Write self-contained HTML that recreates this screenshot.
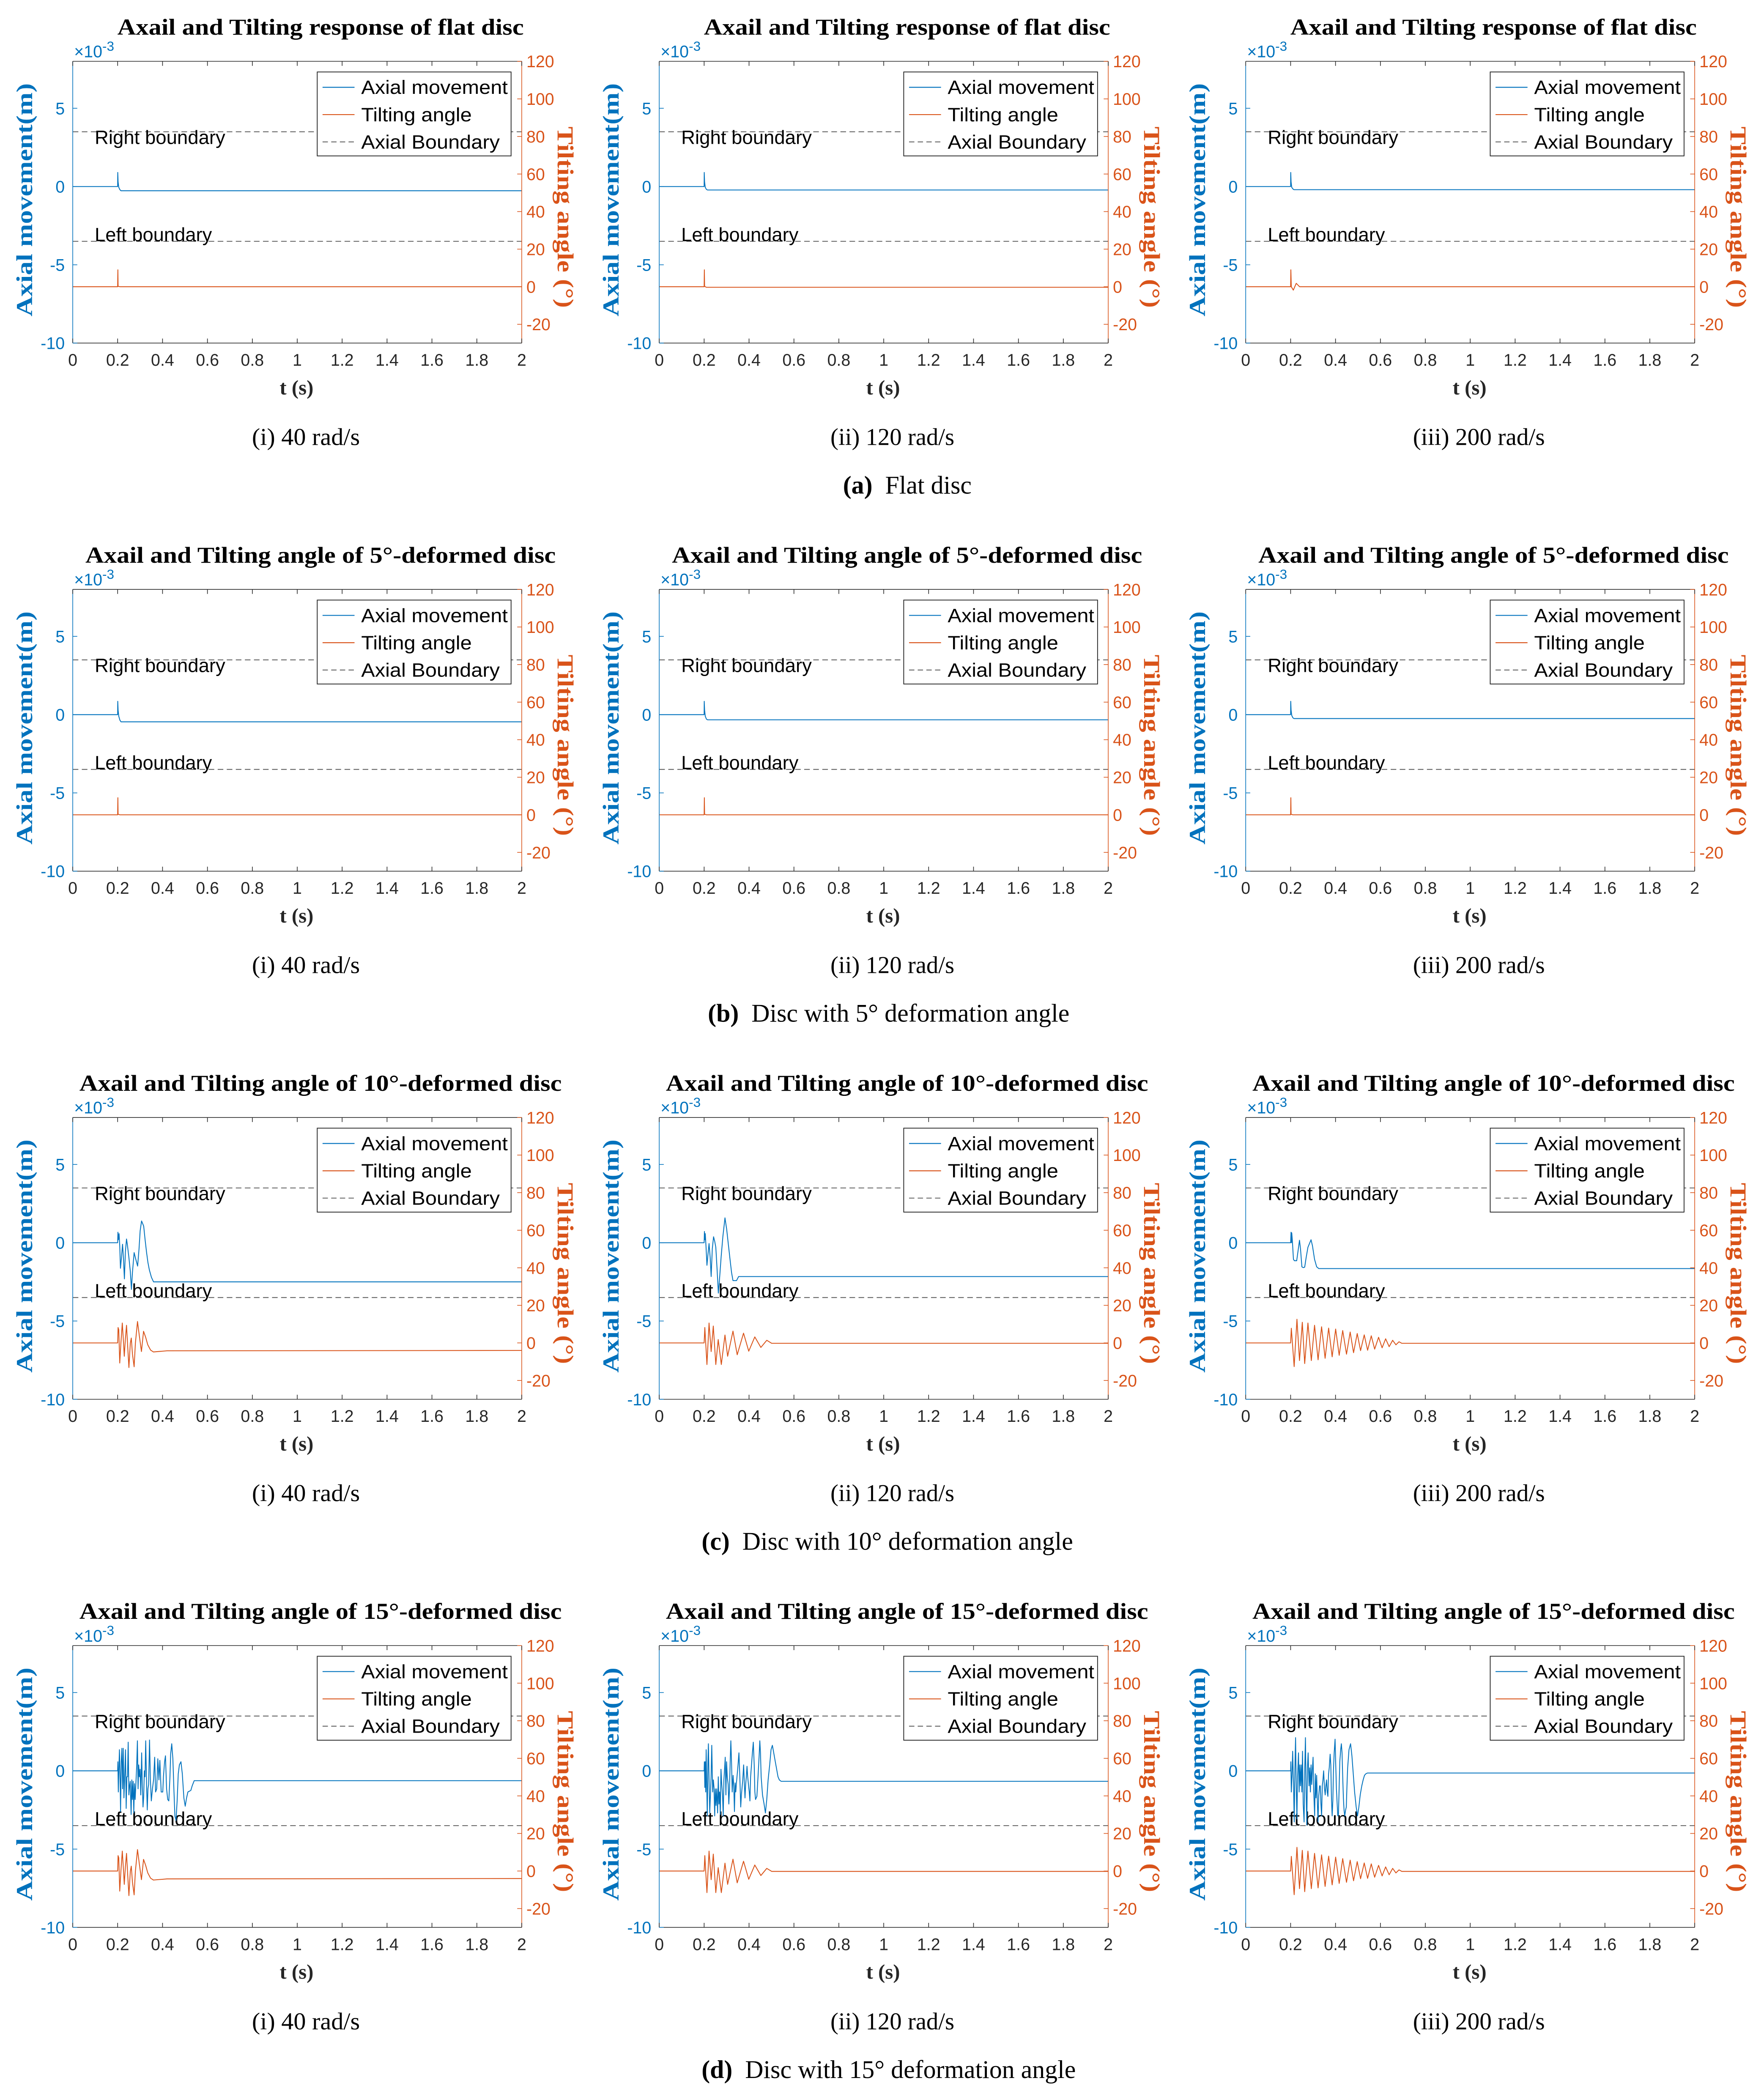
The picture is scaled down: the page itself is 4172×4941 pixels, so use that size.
<!DOCTYPE html>
<html><head><meta charset="utf-8">
<style>
html,body{margin:0;padding:0;background:#fff;}
svg{display:block;}
.sans{font-family:"Liberation Sans",Arial,sans-serif;}
.serif{font-family:"Liberation Serif","Times New Roman",serif;}
</style></head>
<body>
<svg id="fig" xmlns="http://www.w3.org/2000/svg" width="4172" height="4941" viewBox="0 0 1324 1568"></svg>
<script>
// ---------- shared axis data ----------
const xTicks = [0,0.2,0.4,0.6,0.8,1,1.2,1.4,1.6,1.8,2];
const xTickLabels = ['0','0.2','0.4','0.6','0.8','1','1.2','1.4','1.6','1.8','2'];
const axialTicks = [-10,-5,0,5];
const axialTickLabels = ['-10','-5','0','5'];
const tiltTicks = [-20,0,20,40,60,80,100,120];
const tiltTickLabels = ['-20','0','20','40','60','80','100','120'];
const boundaryValues = [3.5,-3.5];

// ---------- row a (flat disc) ----------
const a1AxT = [0,0.2,0.2005,0.202,0.205,0.21,0.215,2];
const a1Ax  = [0,0,0.9,0.3,-0.05,-0.2,-0.27,-0.27];
const a1TlT = [0,0.2,0.201,0.202,0.21,2];
const a1Tl  = [0,0,9,0.2,0,0];
const a2AxT = [0,0.2,0.2005,0.202,0.205,0.21,0.215,2];
const a2Ax  = [0,0,0.9,0.3,-0.05,-0.18,-0.22,-0.22];
const a2TlT = [0,0.2,0.201,0.202,0.21,2];
const a2Tl  = [0,0,9,0.2,-0.3,-0.3];
const a3AxT = [0,0.2,0.2005,0.202,0.205,0.21,0.215,2];
const a3Ax  = [0,0,0.9,0.3,-0.05,-0.15,-0.2,-0.2];
const a3TlT = [0,0.2,0.201,0.203,0.212,0.225,0.24,2];
const a3Tl  = [0,0,9,0,-1.8,1.8,0,0];

// ---------- row b (5 deg) ----------
const b1AxT = [0,0.2,0.2005,0.202,0.205,0.21,0.215,2];
const b1Ax  = [0,0,0.85,0.3,-0.1,-0.35,-0.46,-0.46];
const b1TlT = [0,0.2,0.201,0.202,0.21,2];
const b1Tl  = [0,0,9.1,0.3,0,0];
const b2AxT = [0,0.2,0.2005,0.202,0.205,0.21,0.215,2];
const b2Ax  = [0,0,0.85,0.3,-0.1,-0.28,-0.33,-0.33];
const b2TlT = [0,0.2,0.201,0.202,0.21,2];
const b2Tl  = [0,0,9.1,0.3,0,0];
const b3AxT = [0,0.2,0.2005,0.202,0.205,0.21,0.215,2];
const b3Ax  = [0,0,0.85,0.3,-0.05,-0.2,-0.25,-0.25];
const b3TlT = [0,0.2,0.201,0.202,0.21,2];
const b3Tl  = [0,0,9.1,0.3,0,0];

// ---------- row c (10 deg) ----------
const c1AxT = [0,0.2,0.2013,0.2031,0.2063,0.2094,0.2125,0.2169,0.2219,0.2257,0.2301,0.2345,0.2395,0.2439,0.2502,0.2564,0.2614,0.2658,0.2734,0.279,0.289,0.2953,0.3003,0.3066,0.316,0.3223,0.3285,0.3348,0.3411,0.3505,0.36,2];
const c1Ax  = [0,0,0.67,0.19,0.58,-0.19,-1.63,-0.96,-0.1,-0.96,-2.31,-0.58,0.24,-0.19,-0.96,-1.83,-2.98,-1.92,-0.63,-0.96,-1.49,-0.38,0.77,1.39,1.06,0.19,-0.58,-1.25,-1.73,-2.21,-2.5,-2.5];
const c1TlT = [0,0.2,0.2019,0.205,0.2094,0.2144,0.2207,0.2251,0.2295,0.2345,0.2395,0.2439,0.2502,0.2564,0.2608,0.2658,0.2734,0.279,0.2884,0.2966,0.3060,0.3154,0.3248,0.3342,0.3467,0.3593,0.42,2];
const c1Tl  = [0,0,8.2,7.0,-10.7,-0.2,10.6,2.2,-7.1,2.2,9.4,-0.2,-13.1,-0.2,2.6,-5.8,-12.7,-0.2,11.4,3.8,-4.6,6.2,3.0,-1.0,-3.8,-4.8,-4.2,-4.0];
const c2AxT = [0,0.2,0.2013,0.2031,0.205,0.2082,0.2125,0.2169,0.2219,0.227,0.2313,0.2364,0.242,0.247,0.252,0.2571,0.2633,0.2696,0.2759,0.2834,0.2928,0.3003,0.3085,0.316,0.3223,0.3285,0.3442,0.3536,2];
const c2Ax  = [0,0,0.72,0.19,0.58,-0.19,-1.44,-0.77,-0.05,-0.96,-2.16,-0.38,0.38,0.1,-0.29,-1.54,-3.22,-2.12,-0.87,0.38,1.59,0.87,-0.19,-1.15,-1.92,-2.42,-2.42,-2.16,-2.16];
const c2TlT = [0,0.2,0.2031,0.2125,0.2219,0.2313,0.2408,0.252,0.2627,0.2765,0.2928,0.3047,0.3285,0.3473,0.3755,0.3987,0.4257,0.4527,0.479,0.5009,2];
const c2Tl  = [0,0,8.2,-11.5,10.6,-4.6,9.0,-11.5,1.8,-11.5,4.2,-7.1,6.3,-6.3,5.2,-4.4,3.2,-2.4,1.4,-0.2,-0.2];
const c3AxT = [0,0.2,0.2019,0.2038,0.205,0.2075,0.2125,0.2169,0.227,0.2345,0.2395,0.2439,0.2502,0.2564,0.2627,0.269,0.2771,0.2909,0.2972,0.3066,0.316,0.3254,2];
const c3Ax  = [0,0,0.67,0,0.63,0.19,-1.06,-1.15,-1.15,-0.38,0.16,-0.38,-1.54,-1.59,-1.56,-0.96,-0.29,0.19,-0.19,-1.06,-1.54,-1.65,-1.65];
const c3TlT = [0,0.2,0.2031,0.2157,0.2282,0.2395,0.252,0.2627,0.2771,0.2922,0.3066,0.3223,0.3379,0.3536,0.3693,0.385,0.4006,0.4163,0.432,0.4489,0.4652,0.4803,0.4966,0.5116,0.5279,0.5429,0.5592,0.5743,0.5918,0.6075,0.6232,0.6389,0.6545,0.669,0.6828,0.6953,0.7078,2];
const c3Tl  = [0,0,7.8,-12.6,12.6,-9.4,11.0,-11.0,10.6,-9.4,9.4,-9.0,8.6,-8.2,7.9,-7.4,7.4,-6.6,6.6,-6.0,5.8,-5.2,5.0,-4.1,4.3,-3.9,3.8,-3.3,3.0,-2.6,2.2,-2.0,1.4,-1.0,0.6,-0.2,-0.2,-0.2];

// ---------- row d (15 deg) ----------
const d1AxT = [0,0.2,0.201,0.203,0.206,0.208,0.211,0.213,0.216,0.219,0.222,0.225,0.228,0.231,0.235,0.238,0.241,0.244,0.247,0.25,0.253,0.256,0.26,0.263,0.266,0.269,0.272,0.275,0.278,0.282,0.285,0.288,0.291,0.294,0.297,0.3,0.303,0.307,0.31,0.313,0.316,0.319,0.322,0.325,0.329,0.332,0.335,0.338,0.342,0.346,0.35,0.355,0.36,0.365,0.369,0.374,0.379,0.384,0.388,0.394,0.401,0.404,0.409,0.413,0.418,0.423,0.428,0.433,0.436,0.441,0.446,0.451,0.455,0.46,0.465,0.47,0.475,0.482,0.488,0.495,0.501,0.507,0.513,0.526,0.532,0.541,2];
const d1Ax  = [0,0,0.58,-1.35,0.38,1.35,-0.58,-2.6,0.58,1.44,-1.15,1.44,-1.73,-0.58,1.35,-2.4,-0.38,-0.38,1.83,-1.54,-0.96,-0.67,-2.79,-0.58,-1.83,-0.67,-2.69,-0.82,-1.83,-0.58,0.38,1.92,-1.15,0.38,-0.38,0.1,-1.54,1.15,-0.96,-2.31,-1.63,0,-0.38,1.92,-0.96,-2.5,-1.15,-0.87,1.97,-0.58,-1.92,-1.15,-0.58,0.87,-1.35,-1.15,0.77,-0.58,0.67,-1.35,-1.35,-0.38,0.58,0.96,-1.15,-1.83,-1.92,-0.38,1.06,1.73,0.77,-1.35,-2.88,-3.17,-1.92,-0.19,0.38,0.58,-0.19,-1.73,-2.26,-1.73,-1.35,-1.25,-0.96,-0.63,-0.63];
const d1TlT = c1TlT.slice();
const d1Tl  = [0,0,8.2,7.0,-10.7,-0.2,10.6,2.2,-7.1,2.2,9.4,-0.2,-13.1,-0.2,2.6,-5.8,-12.7,-0.2,11.4,3.8,-4.6,6.2,3.0,-1.0,-3.8,-4.8,-4.2,-4.0];
const d2AxT = [0,0.2,0.201,0.203,0.205,0.207,0.209,0.211,0.214,0.217,0.219,0.222,0.225,0.228,0.231,0.234,0.238,0.241,0.244,0.247,0.25,0.253,0.256,0.26,0.263,0.266,0.269,0.272,0.275,0.278,0.282,0.285,0.288,0.291,0.294,0.297,0.3,0.303,0.307,0.31,0.313,0.316,0.319,0.322,0.325,0.329,0.332,0.335,0.338,0.341,0.344,0.35,0.355,0.359,0.363,0.366,0.369,0.372,0.376,0.379,0.382,0.385,0.388,0.391,0.394,0.398,0.401,0.404,0.407,0.41,0.415,0.419,0.423,0.426,0.429,0.432,0.435,0.44,0.445,0.448,0.451,0.454,0.46,0.467,0.473,0.479,0.485,0.492,0.498,0.504,0.51,0.517,0.523,0.529,0.535,0.543,2];
const d2Ax  = [0,0,0.58,-1.06,0.58,-1.35,1.35,-0.38,-2.88,0.58,1.73,-0.58,-2.69,-1.54,-0.38,1.63,-1.35,-0.58,-1.06,-2.88,-1.15,-2.21,-1.15,-2.69,-0.38,-2.12,-1.35,-2.79,0.1,-0.77,-1.54,-2.88,-0.58,0.1,0.87,-1.54,0.58,-0.38,-0.87,-2.12,-1.15,0.58,1.92,0.58,-1.35,-0.29,-0.96,-2.6,-0.77,-1.35,-0.77,0.19,1.15,-0.38,-2.31,-1.54,-1.06,-0.58,0.38,-0.77,-1.73,-0.87,-0.38,0.29,-0.38,-0.96,-1.35,-1.92,-0.38,0.19,1.15,1.83,0.38,-1.35,-1.83,-1.73,-1.63,-0.38,0.96,1.92,1.15,-0.38,-1.54,-2.12,-2.69,-1.83,-0.58,0.38,1.35,1.63,1.15,0.58,0.1,-0.38,-0.58,-0.67,-0.67];
const d2TlT = c2TlT.slice();
const d2Tl  = [0,0,8.2,-11.5,10.6,-4.6,9.0,-11.5,1.8,-11.5,4.2,-7.1,6.3,-6.3,5.2,-4.4,3.2,-2.4,1.4,-0.2,-0.2];
const d3AxT = [0,0.2,0.201,0.203,0.206,0.209,0.213,0.216,0.219,0.222,0.225,0.228,0.231,0.235,0.238,0.241,0.244,0.247,0.25,0.253,0.256,0.26,0.263,0.266,0.269,0.272,0.275,0.278,0.282,0.285,0.288,0.291,0.294,0.297,0.3,0.303,0.307,0.31,0.313,0.316,0.319,0.322,0.325,0.329,0.332,0.335,0.338,0.341,0.344,0.347,0.351,0.354,0.357,0.36,0.363,0.366,0.369,0.372,0.376,0.379,0.382,0.385,0.388,0.391,0.394,0.398,0.401,0.404,0.41,0.413,0.416,0.419,0.423,0.426,0.429,0.432,0.435,0.438,0.441,0.445,0.448,0.451,0.454,0.46,0.467,0.473,0.479,0.485,0.492,0.498,0.504,0.51,0.517,0.523,0.529,0.535,0.542,2];
const d3Ax  = [0,0,0.58,-1.35,-0.38,1.25,-0.96,-3.27,0.1,2.12,-0.96,-3.08,-0.38,1.15,-1.35,0.38,-0.96,0.38,-1.35,1.25,-2.12,-3.27,0.19,2.12,-1.35,-3.46,0.19,1.15,-0.96,0.19,-1.35,0.38,-0.87,0.1,0.87,-1.35,-2.88,-0.19,-1.73,-0.29,-1.92,-3.27,-1.63,-0.96,-0.96,-2.12,-2.88,-0.96,-0.58,0,-1.15,-1.54,-0.96,-0.58,-1.35,-1.63,-0.19,0.19,1.06,0.38,-1.83,-2.88,-1.92,0.1,1.15,2.02,0.38,-1.15,-2.88,-2.79,-1.15,0.58,1.35,1.73,1.15,-0.38,-1.73,-2.5,-2.88,-2.5,-2.31,-0.96,0.19,1.35,1.73,0.96,-0.19,-1.35,-2.31,-2.88,-2.31,-1.54,-0.96,-0.58,-0.29,-0.19,-0.14,-0.14];
const d3TlT = c3TlT.slice();
const d3Tl  = [0,0,7.8,-12.6,12.6,-9.4,11.0,-11.0,10.6,-9.4,9.4,-9.0,8.6,-8.2,7.9,-7.4,7.4,-6.6,6.6,-6.0,5.8,-5.2,5.0,-4.1,4.3,-3.9,3.8,-3.3,3.0,-2.6,2.2,-2.0,1.4,-1.0,0.6,-0.2,-0.2,-0.2];

// ---------- text ----------
const rowTitles = ['Axail and Tilting response of flat disc','Axail and Tilting angle of 5°-deformed disc','Axail and Tilting angle of 10°-deformed disc','Axail and Tilting angle of 15°-deformed disc'];
const rowTitleWidths = [305,353,362,362];
const colCaptions = ['(i) 40 rad/s','(ii) 120 rad/s','(iii) 200 rad/s'];
const colCaptionWidths = [81,93,99];
const rowLetters = ['(a)','(b)','(c)','(d)'];
const rowSubcaptions = ['Flat disc','Disc with 5° deformation angle','Disc with 10° deformation angle','Disc with 15° deformation angle'];
const rowSubCenters = [681,667,666,667];

const series = [
  [[a1AxT,a1Ax,a1TlT,a1Tl],[a2AxT,a2Ax,a2TlT,a2Tl],[a3AxT,a3Ax,a3TlT,a3Tl]],
  [[b1AxT,b1Ax,b1TlT,b1Tl],[b2AxT,b2Ax,b2TlT,b2Tl],[b3AxT,b3Ax,b3TlT,b3Tl]],
  [[c1AxT,c1Ax,c1TlT,c1Tl],[c2AxT,c2Ax,c2TlT,c2Tl],[c3AxT,c3Ax,c3TlT,c3Tl]],
  [[d1AxT,d1Ax,d1TlT,d1Tl],[d2AxT,d2Ax,d2TlT,d2Tl],[d3AxT,d3Ax,d3TlT,d3Tl]]
];

const NS = 'http://www.w3.org/2000/svg';
const svg = document.getElementById('fig');
const BLUE = '#0072BD', ORANGE = '#D95319', DARK = '#262626', GRAY = '#6b6b6b';
const PW = 337, PH = 211.5;

function mk(tag, attrs, parent){
  const e = document.createElementNS(NS, tag);
  for (const k in attrs) e.setAttribute(k, attrs[k]);
  parent.appendChild(e);
  return e;
}
function txt(str, attrs, parent){
  const e = mk('text', attrs, parent);
  e.textContent = str;
  return e;
}

for (let r = 0; r < 4; r++) {
  for (let c = 0; c < 3; c++) {
    const L = 54.6 + c * 440.2;
    const T = 46 + r * 396.4;
    const R = L + PW, B = T + PH;
    const xS = t => L + (t - 0) / 2 * PW;
    const yA = v => T + (8 - v) / 18 * PH;
    const yT = d => T + (120 - d) / 150 * PH;

    const g = mk('g', {}, svg);
    
    

    const title = txt(rowTitles[r], {x: L + 186, y: T - 20, 'text-anchor':'middle', class:'serif', 'font-size':17, 'font-weight':'bold', fill:'#000', textLength: rowTitleWidths[r], lengthAdjust:'spacingAndGlyphs'}, g);
    
    

    boundaryValues.forEach((bv, i) => {
      const ln = mk('line', {x1: L, x2: R, y1: yA(bv), y2: yA(bv), stroke: GRAY, 'stroke-width': 0.7, 'stroke-dasharray': '4.2,2.6'}, g);
      
      
    });
    const rb = txt('Right boundary', {x: L + 16.5, y: T + 62, class:'sans', 'font-size':14.5, fill:'#000', textLength:98, lengthAdjust:'spacingAndGlyphs'}, g);
    
    
    const lb = txt('Left boundary', {x: L + 16.5, y: T + 135, class:'sans', 'font-size':14.5, fill:'#000', textLength:88, lengthAdjust:'spacingAndGlyphs'}, g);
    
    

    const [axT, ax, tlT, tl] = series[r][c];
    let dA = '';
    for (let i = 0; i < axT.length; i++) dA += (i ? 'L' : 'M') + xS(axT[i]).toFixed(2) + ',' + yA(ax[i]).toFixed(2);
    const pA = mk('path', {d: dA, fill:'none', stroke: BLUE, 'stroke-width': 0.65, 'stroke-linejoin':'round'}, g);
    
    
    let dT = '';
    for (let i = 0; i < tlT.length; i++) dT += (i ? 'L' : 'M') + xS(tlT[i]).toFixed(2) + ',' + yT(tl[i]).toFixed(2);
    const pT = mk('path', {d: dT, fill:'none', stroke: ORANGE, 'stroke-width': 0.65, 'stroke-linejoin':'round'}, g);
    
    

    const topL = mk('line', {x1:L, x2:R, y1:T, y2:T, stroke: DARK, 'stroke-width':0.5}, g);
    
    
    const botL = mk('line', {x1:L, x2:R, y1:B, y2:B, stroke: DARK, 'stroke-width':0.5}, g);
    
    
    const lefL = mk('line', {x1:L, x2:L, y1:T, y2:B, stroke: BLUE, 'stroke-width':0.5}, g);
    
    
    const rigL = mk('line', {x1:R, x2:R, y1:T, y2:B, stroke: ORANGE, 'stroke-width':0.5}, g);
    
    

    xTicks.forEach((t, i) => {
      const x = xS(t);
      const tk = mk('path', {d:`M${x},${B}v-3.4M${x},${T}v3.4`, stroke: DARK, 'stroke-width':0.5}, g);
      
      
      const tl2 = txt(xTickLabels[i], {x: x, y: B + 17, 'text-anchor':'middle', class:'sans', 'font-size':12.5, fill: DARK}, g);
      
      
    });
    axialTicks.forEach((v, i) => {
      const y = yA(v);
      const tk = mk('line', {x1:L, x2:L+3.4, y1:y, y2:y, stroke: BLUE, 'stroke-width':0.5}, g);
      
      
      const lbl = txt(axialTickLabels[i], {x: L - 6, y: y + 4.5, 'text-anchor':'end', class:'sans', 'font-size':12.5, fill: BLUE}, g);
      
      
    });
    tiltTicks.forEach((d, i) => {
      const y = yT(d);
      const tk = mk('line', {x1:R-3.4, x2:R, y1:y, y2:y, stroke: ORANGE, 'stroke-width':0.5}, g);
      
      
      const lbl = txt(tiltTickLabels[i], {x: R + 3.5, y: y + 4.5, class:'sans', 'font-size':12.5, fill: ORANGE}, g);
      
      
    });

    const ex = txt('', {x: L + 1, y: T - 3, class:'sans', 'font-size':12.5, fill: BLUE}, g);
    
    
    const ts1 = mk('tspan', {}, ex); ts1.textContent = '×10';
    const ts2 = mk('tspan', {dy: -5, 'font-size': 10}, ex); ts2.textContent = '-3';

    const yl = txt('Axial movement(m)', {x:0, y:0, transform:`translate(${L - 30.5},${T + 104}) rotate(-90)`, 'text-anchor':'middle', class:'serif', 'font-size':17, 'font-weight':'bold', fill: BLUE, textLength:175, lengthAdjust:'spacingAndGlyphs'}, g);
    
    
    const yr = txt('Tilting angle (°)', {x:0, y:0, transform:`translate(${R + 27},${T + 117}) rotate(90)`, 'text-anchor':'middle', class:'serif', 'font-size':17, 'font-weight':'bold', fill: ORANGE, textLength:136, lengthAdjust:'spacingAndGlyphs'}, g);
    
    
    const xl = txt('t (s)', {x: L + 168, y: B + 38.5, 'text-anchor':'middle', class:'serif', 'font-size':15.5, 'font-weight':'bold', fill: DARK}, g);
    
    

    const lg = mk('g', {}, g);
    
    
    const lbox = mk('rect', {x: L + 183.5, y: T + 8, width: 145.5, height: 63, fill:'#fff', stroke: DARK, 'stroke-width':0.6}, lg);
    
    
    const entries = [['Axial movement', BLUE, '', 110], ['Tilting angle', ORANGE, '', 83], ['Axial Boundary', GRAY, '4,2.5', 104]];
    entries.forEach((en, i) => {
      const yy = T + 19.5 + i * 20.5;
      const sw = mk('line', {x1: L + 187.5, x2: L + 211.5, y1: yy, y2: yy, stroke: en[1], 'stroke-width':0.7, 'stroke-dasharray': en[2] || 'none'}, lg);
      
      
      const lt = txt(en[0], {x: L + 216.5, y: yy + 5, class:'sans', 'font-size':14.5, fill:'#000', textLength: en[3], lengthAdjust:'spacingAndGlyphs'}, lg);
      
      
    });

    const cap = txt(colCaptions[c], {x: L + 175, y: T + 288, 'text-anchor':'middle', class:'serif', 'font-size':18, fill:'#000', textLength: colCaptionWidths[c], lengthAdjust:'spacingAndGlyphs'}, g);
    
    
  }
  const sc = txt('', {x: rowSubCenters[r], y: 46 + r * 396.4 + 324.5, 'text-anchor':'middle', class:'serif', 'font-size':19, fill:'#000'}, svg);
  
  
  const s1 = mk('tspan', {'font-weight':'bold'}, sc); s1.textContent = rowLetters[r];
  const s2 = mk('tspan', {}, sc); s2.textContent = '\u00a0\u00a0' + rowSubcaptions[r];
}
</script>
</body></html>
